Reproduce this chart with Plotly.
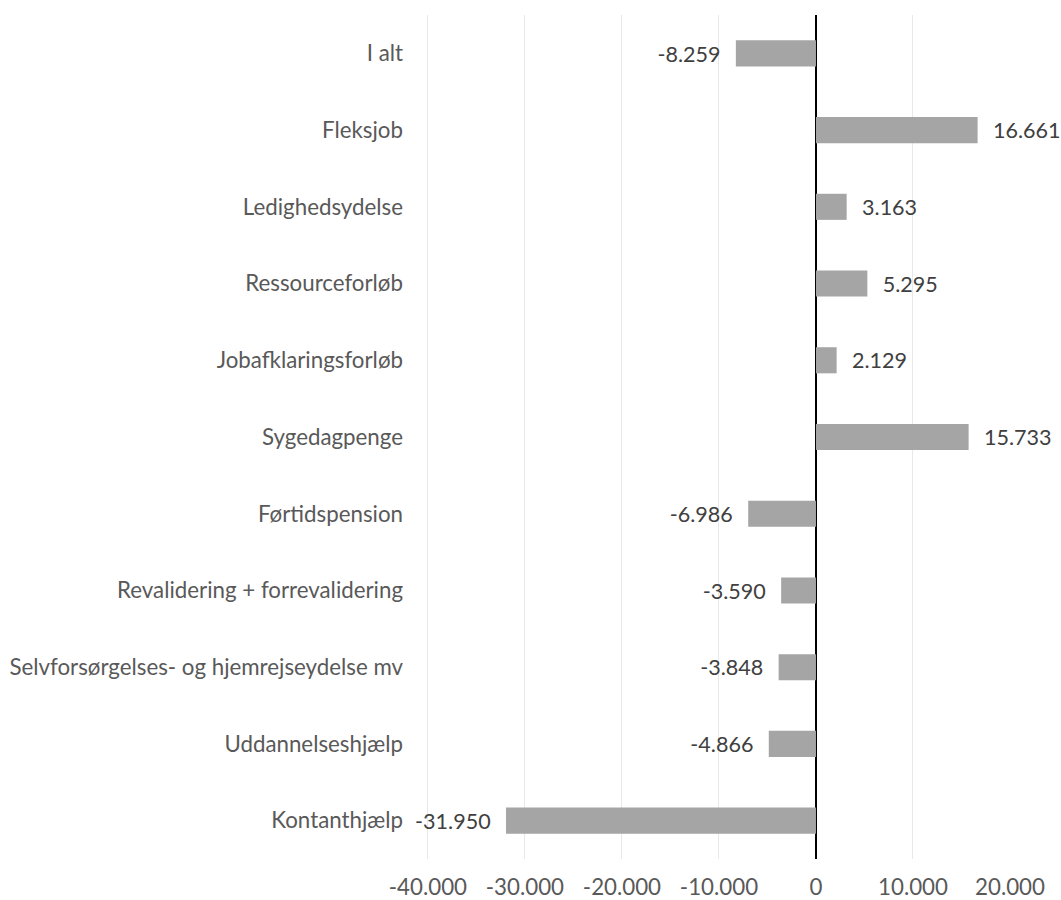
import plotly.graph_objects as go

categories = ["I alt", "Fleksjob", "Ledighedsydelse", "Ressourceforløb", "Jobafklaringsforløb",
              "Sygedagpenge", "Førtidspension", "Revalidering + forrevalidering",
              "Selvforsørgelses- og hjemrejseydelse mv", "Uddannelseshjælp", "Kontanthjælp"]
values = [-8259, 16661, 3163, 5295, 2129, 15733, -6986, -3590, -3848, -4866, -31950]
tick_vals = [-40000, -30000, -20000, -10000, 0, 10000, 20000]

def fmt(v):
    return f"{v:,}".replace(",", ".")

PAD = "\u00a0\u00a0\u200a"
tick_text = [fmt(v) for v in tick_vals]
labels = [(PAD + fmt(v)) if v >= 0 else (fmt(v) + PAD) for v in values]

FONT = "Lato"
TXT = "#595959"
FS = 22.3

fig = go.Figure(go.Bar(
    x=values, y=categories, orientation="h",
    marker=dict(color="#A5A5A5", line=dict(width=0)),
    text=labels, textposition="outside", cliponaxis=False,
    textfont=dict(family=FONT, size=FS, color="#404040"),
    hoverinfo="skip",
))

fig.update_layout(
    width=1061, height=900,
    margin=dict(l=426, r=51, t=15, b=41),
    paper_bgcolor="white", plot_bgcolor="white",
    bargap=0.66, showlegend=False,
    font=dict(family=FONT, size=FS, color=TXT),
    xaxis=dict(range=[-40200, 20000], tickvals=tick_vals, ticktext=tick_text,
               showgrid=True, gridcolor="#E8E8E8", gridwidth=1,
               zeroline=True, zerolinecolor="black", zerolinewidth=1.5,
               showline=False, ticks="", ticklabelstandoff=13, automargin=False,
               tickfont=dict(family=FONT, size=FS, color=TXT)),
    yaxis=dict(categoryorder="array", categoryarray=categories, autorange="reversed",
               showgrid=False, zeroline=False, showline=False, ticks="",
               ticklabelstandoff=22, automargin=False,
               tickfont=dict(family=FONT, size=FS, color=TXT)),
)

fig.write_html("out.html", config={"displayModeBar": False},
               post_script="document.body.style.margin='0';document.body.style.padding='0';")
